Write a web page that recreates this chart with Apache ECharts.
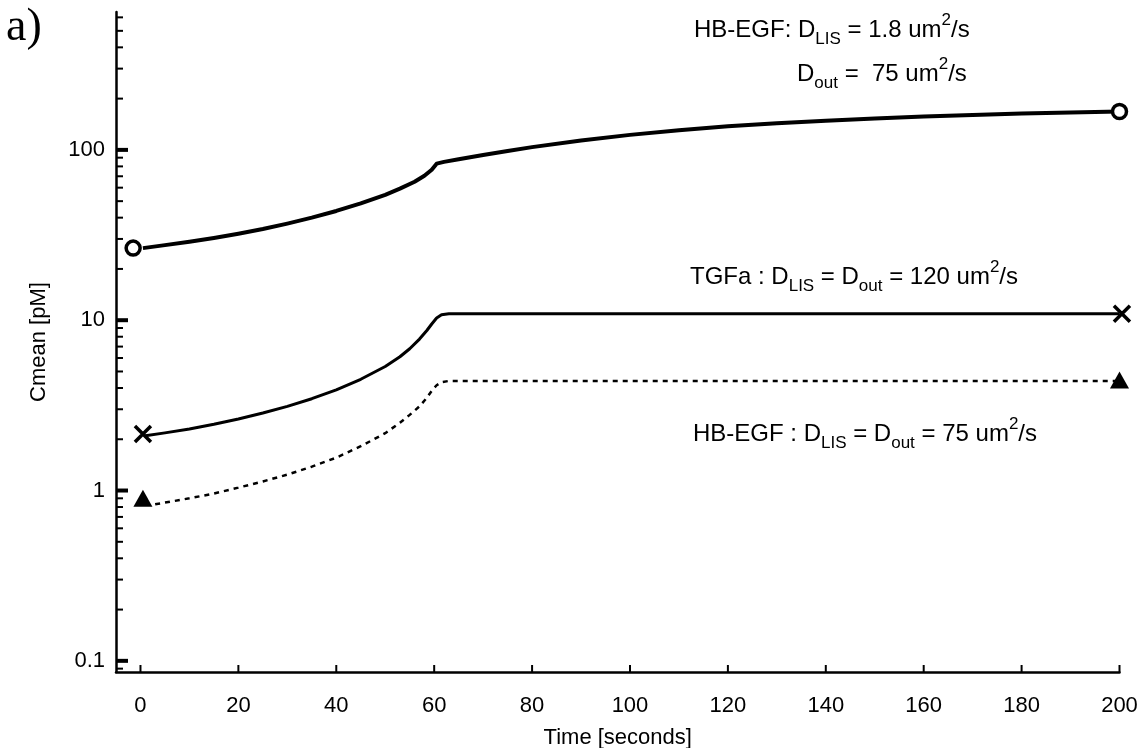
<!DOCTYPE html>
<html><head><meta charset="utf-8">
<script src="https://cdn.jsdelivr.net/npm/echarts@6/dist/echarts.min.js"></script>
<style>html,body{margin:0;padding:0;background:#fff}#c{width:1143px;height:748px}</style>
</head><body><div id="c"></div>
<script>
// ---- data ----
const xTickValues = [0, 20, 40, 60, 80, 100, 120, 140, 160, 180, 200];
const yMajorTicks = [0.1, 1, 10, 100];
const yMinorTicks = [0.09, 0.2, 0.3, 0.4, 0.5, 0.6, 0.7, 0.8, 0.9,
  2, 3, 4, 5, 6, 7, 8, 9, 20, 30, 40, 50, 60, 70, 80, 90, 200, 300, 400, 500, 600];

// HB-EGF, D_LIS = 1.8, D_out = 75 (top, solid thick)
const hbSlowT = [0.5, 5, 10, 15, 20, 25, 30, 35, 40, 45, 50, 53, 56, 58, 59.5, 60.5, 62, 65, 70, 75, 80, 90, 100, 110, 120, 130, 140, 150, 160, 170, 180, 190, 200];
const hbSlowC = [26.5, 27.6, 28.9, 30.4, 32.2, 34.3, 36.9, 40.0, 43.8, 48.5, 54.5, 59.2, 65.0, 70.5, 76.5, 83.0, 85.0, 88.2, 93.3, 98.6, 103.8, 113.5, 122.5, 130.5, 137.5, 143.5, 148.5, 153, 157, 160.5, 163.5, 166, 168];
// TGFa, D_LIS = D_out = 120 (middle, solid)
const tgfT = [1, 5, 10, 15, 20, 25, 30, 35, 40, 45, 50, 53, 55, 57, 58.5, 59.5, 60.5, 61.5, 63, 100, 150, 200];
const tgfC = [2.1, 2.18, 2.3, 2.45, 2.63, 2.85, 3.12, 3.46, 3.9, 4.5, 5.35, 6.1, 6.8, 7.75, 8.7, 9.5, 10.3, 10.75, 10.9, 10.9, 10.9, 10.9];
// HB-EGF, D_LIS = D_out = 75 (bottom, dotted)
const hbFastT = [3, 10, 15, 20, 25, 30, 35, 40, 45, 50, 53, 55, 57, 58.5, 59.5, 60.5, 61.5, 63, 100, 150, 200];
const hbFastC = [0.83, 0.9, 0.96, 1.04, 1.13, 1.24, 1.38, 1.56, 1.82, 2.17, 2.5, 2.78, 3.12, 3.5, 3.85, 4.15, 4.33, 4.4, 4.4, 4.4, 4.4];

// end markers
const circleMarks = [[-1.5, 26.5], [200, 168]];
const crossMarks = [[0.5, 2.15], [200.5, 10.9]];
const triMarks = [[0.5, 0.9], [200, 4.45]];

const X_MIN = -5, X_MAX = 200, Y_MIN = 0.086, Y_MAX = 645;

const FONT = '"Liberation Sans", Arial, sans-serif';
const zip = (a, b) => a.map((v, i) => [v, b[i]]);

// annotation built from separate text pieces (sub/superscripts)
const measureCtx = document.createElement('canvas').getContext('2d');
function annot(x, y, parts, size, small) {
  const els = [];
  let cx = x;
  for (const [t, k] of parts) {
    const fs = k === 'n' ? size : small;
    measureCtx.font = fs + 'px ' + FONT;
    const dy = k === 'sub' ? 9 : (k === 'sup' ? -10 : 0);
    els.push({ type: 'text', x: cx, y: y + dy,
      style: { text: t, font: fs + 'px ' + FONT, fill: '#000', align: 'left', verticalAlign: 'middle' } });
    cx += measureCtx.measureText(t).width;
  }
  return els;
}

const chart = echarts.init(document.getElementById('c'), null, { renderer: 'canvas' });

const yTickData = yMajorTicks.map(v => [X_MIN, v, 1]).concat(yMinorTicks.map(v => [X_MIN, v, 0]));
const xTickData = xTickValues.map(v => [v, Y_MIN]);

const graphics = [
  { type: 'text', x: 6, y: 5, style: { text: 'a)', font: '46px "Liberation Serif", "Times New Roman", serif', fill: '#000' } }
].concat(
  annot(694, 30, [['HB-EGF: D', 'n'], ['LIS', 'sub'], [' = 1.8 um', 'n'], ['2', 'sup'], ['/s', 'n']], 24, 17),
  annot(797, 74, [['D', 'n'], ['out', 'sub'], [' =  75 um', 'n'], ['2', 'sup'], ['/s', 'n']], 24, 17),
  annot(690, 277, [['TGFa : D', 'n'], ['LIS', 'sub'], [' = D', 'n'], ['out', 'sub'], [' = 120 um', 'n'], ['2', 'sup'], ['/s', 'n']], 24, 17),
  annot(693, 434, [['HB-EGF : D', 'n'], ['LIS', 'sub'], [' = D', 'n'], ['out', 'sub'], [' = 75 um', 'n'], ['2', 'sup'], ['/s', 'n']], 24, 17)
);

const option = {
  backgroundColor: '#fff',
  animation: false,
  grid: { left: 116, right: 23.5, top: 12, bottom: 76, containLabel: false, outerBoundsMode: 'none' },
  xAxis: {
    type: 'value', min: X_MIN, max: X_MAX, splitNumber: 10,
    name: 'Time [seconds]', nameLocation: 'middle', nameGap: 55,
    nameTextStyle: { fontFamily: FONT, fontSize: 22, color: '#000' },
    axisLine: { show: true, onZero: false, lineStyle: { color: '#000', width: 2.5 } },
    axisTick: { show: false },
    splitLine: { show: false },
    axisLabel: {
      margin: 23, fontFamily: FONT, fontSize: 22, color: '#000',
      formatter: v => (Math.abs(v % 20) < 1e-9 ? String(v) : '')
    }
  },
  yAxis: {
    type: 'log', logBase: 10, min: Y_MIN, max: Y_MAX,
    name: 'Cmean [pM]', nameLocation: 'middle', nameGap: 66,
    nameTextStyle: { fontFamily: FONT, fontSize: 22, color: '#000' },
    axisLine: { show: true, onZero: false, lineStyle: { color: '#000', width: 2.5 } },
    axisTick: { show: false },
    splitLine: { show: false },
    axisLabel: {
      margin: 11, fontFamily: FONT, fontSize: 22, color: '#000',
      formatter: v => {
        const l = Math.log10(v);
        if (Math.abs(l - Math.round(l)) > 1e-6) return '';
        return String(+Math.pow(10, Math.round(l)).toPrecision(3));
      }
    }
  },
  graphic: graphics,
  series: [
    {
      type: 'custom', name: 'yticks', silent: true, clip: false, z: 5,
      data: yTickData,
      renderItem: (params, api) => {
        const p = api.coord([api.value(0), api.value(1)]);
        const major = api.value(2) === 1;
        const len = major ? 12 : 7;
        return { type: 'line', shape: { x1: p[0], y1: p[1], x2: p[0] + len, y2: p[1] },
          style: { stroke: '#000', lineWidth: major ? 4 : 2 } };
      }
    },
    {
      type: 'custom', name: 'xticks', silent: true, clip: false, z: 5,
      data: xTickData,
      renderItem: (params, api) => {
        const p = api.coord([api.value(0), api.value(1)]);
        return { type: 'line', shape: { x1: p[0], y1: p[1], x2: p[0], y2: p[1] - 7 },
          style: { stroke: '#000', lineWidth: 2 } };
      }
    },
    {
      type: 'line', name: 'HB-EGF slow', data: zip(hbSlowT, hbSlowC),
      showSymbol: false, smooth: false, clip: false,
      lineStyle: { color: '#000', width: 4, join: 'round' }
    },
    {
      type: 'line', name: 'TGFa', data: zip(tgfT, tgfC),
      showSymbol: false, smooth: false, clip: false,
      lineStyle: { color: '#000', width: 3, join: 'round' }
    },
    {
      type: 'line', name: 'HB-EGF fast', data: zip(hbFastT, hbFastC),
      showSymbol: false, smooth: false, clip: false,
      lineStyle: { color: '#000', width: 2.5, type: [5, 5] }
    },
    {
      type: 'scatter', name: 'circle', data: circleMarks, clip: false, z: 6,
      symbol: 'circle', symbolSize: 14,
      itemStyle: { color: '#fff', borderColor: '#000', borderWidth: 3.5, opacity: 1 }
    },
    {
      type: 'scatter', name: 'cross', data: crossMarks, clip: false, z: 6,
      symbol: 'path://M0,0L10,10M10,0L0,10', symbolSize: 16,
      itemStyle: { color: 'none', borderColor: '#000', borderWidth: 3.5, opacity: 1 }
    },
    {
      type: 'scatter', name: 'triangle', data: triMarks, clip: false, z: 6,
      symbol: 'triangle', symbolSize: [19, 17],
      itemStyle: { color: '#000', opacity: 1 }
    }
  ]
};
chart.setOption(option);
</script>
</body></html>
